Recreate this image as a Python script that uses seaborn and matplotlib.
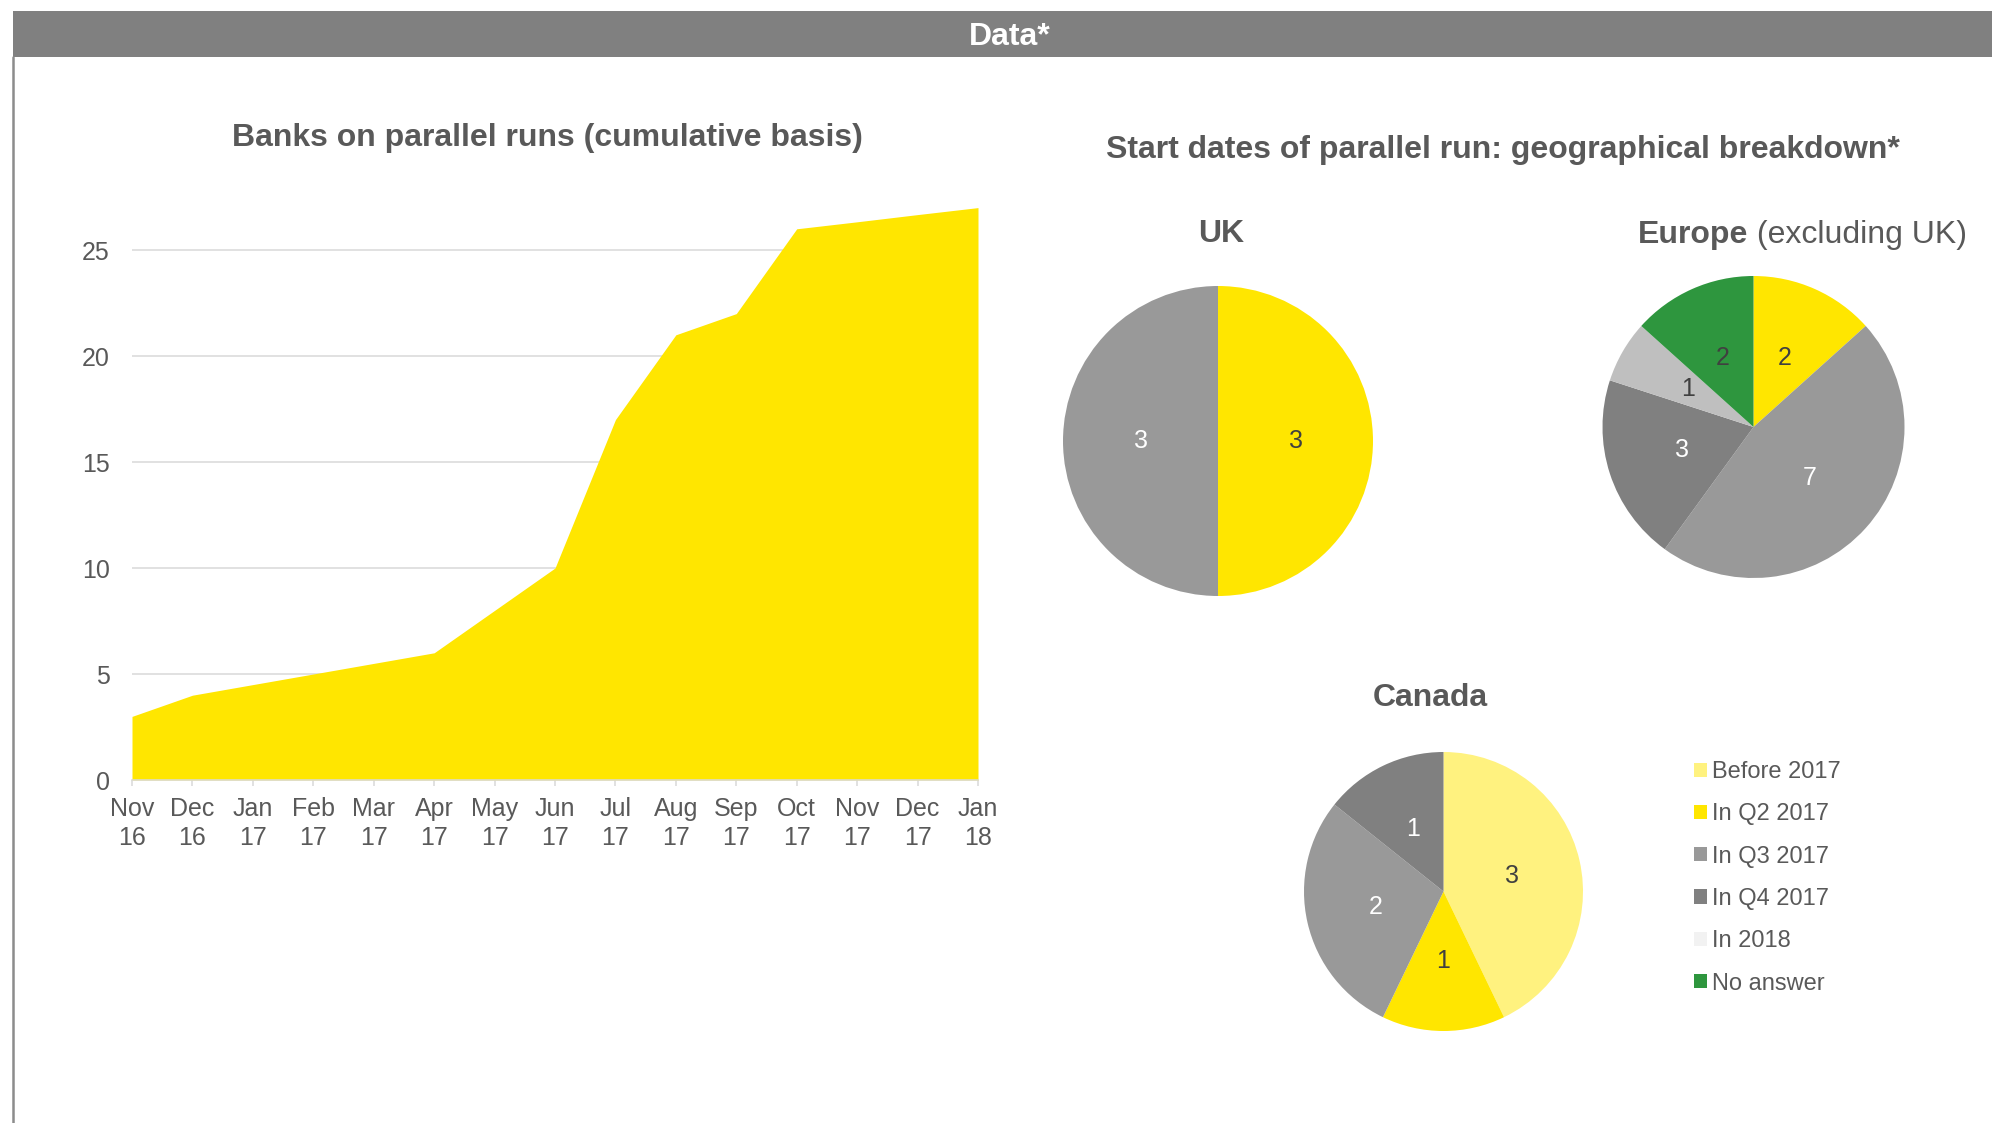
import matplotlib
matplotlib.use("Agg")
import matplotlib.pyplot as plt
import seaborn as sns
import pandas as pd
from matplotlib.patches import Rectangle, Patch
from matplotlib.lines import Line2D

# ---- data -------------------------------------------------------------
months = ["Nov\n16", "Dec\n16", "Jan\n17", "Feb\n17", "Mar\n17", "Apr\n17",
          "May\n17", "Jun\n17", "Jul\n17", "Aug\n17", "Sep\n17", "Oct\n17",
          "Nov\n17", "Dec\n17", "Jan\n18"]
banks_cumulative = [3, 4, 4.5, 5, 5.5, 6, 8, 10, 17, 21, 22, 26, 26.33, 26.67, 27]
y_ticks = [0, 5, 10, 15, 20, 25]

categories = ["Before 2017", "In Q2 2017", "In Q3 2017", "In Q4 2017",
              "In 2018", "No answer"]

uk_labels = ["In Q2 2017", "In Q3 2017"]
uk_values = [3, 3]

europe_labels = ["In Q2 2017", "In Q3 2017", "In Q4 2017", "In 2018", "No answer"]
europe_values = [2, 7, 3, 1, 2]

canada_labels = ["Before 2017", "In Q2 2017", "In Q3 2017", "In Q4 2017"]
canada_values = [3, 1, 2, 1]

# ---- style ------------------------------------------------------------
YELLOW = "#FFE600"
TEXT = "#595959"
GRID = "#D9D9D9"
legend_colors = {"Before 2017": "#FFF27F", "In Q2 2017": YELLOW,
                 "In Q3 2017": "#999999", "In Q4 2017": "#808080",
                 "In 2018": "#F2F2F2", "No answer": "#2E963E"}
slice_colors = dict(legend_colors, **{"In 2018": "#BFBFBF"})
label_colors = {"Before 2017": "#404040", "In Q2 2017": "#404040",
                "In Q3 2017": "white", "In Q4 2017": "white",
                "In 2018": "#404040", "No answer": "#404040"}

sns.set_theme(style="white")
plt.rcParams["font.family"] = ["Liberation Sans", "DejaVu Sans"]
plt.rcParams["text.color"] = TEXT

W, H, DPI = 1992, 1123, 100
fig = plt.figure(figsize=(W / DPI, H / DPI), dpi=DPI)
fig.patch.set_facecolor("white")


def fx(x):
    return x / W


def fy(y):
    return 1 - y / H


# ---- header bar and frame line ---------------------------------------
fig.patches.append(Rectangle((fx(13), fy(57)), 1 - fx(13), (57 - 11) / H,
                             transform=fig.transFigure, facecolor="#808080",
                             edgecolor="none", zorder=0))
fig.lines.append(Line2D([fx(13), fx(13)], [fy(57), 0], transform=fig.transFigure,
                        color="#8C8C8C", linewidth=1.8))
fig.text(fx(1010), fy(45), "Data*", ha="center", va="baseline",
         fontsize=23, fontweight="bold", color="white")

# ---- area chart -------------------------------------------------------
px_per_unit = (780 - 250) / 25
ax = fig.add_axes([fx(132), fy(780), (978 - 132) / W, 30 * px_per_unit / H])
df = pd.DataFrame({"idx": range(len(months)), "banks": banks_cumulative})
sns.lineplot(data=df, x="idx", y="banks", ax=ax, color=YELLOW, linewidth=0)
ax.fill_between(df["idx"], df["banks"], color=YELLOW, linewidth=0, zorder=2)
ax.set_xlim(0, len(months) - 1)
ax.set_ylim(0, 30)
ax.set_xticks(range(len(months)))
ax.set_xticklabels(months, linespacing=1.25)
ax.set_yticks(y_ticks)
ax.set_xlabel("")
ax.set_ylabel("")
ax.set_axisbelow(True)
ax.yaxis.grid(True, color=GRID, linewidth=1.1)
ax.xaxis.grid(False)
for side in ("left", "right", "top"):
    ax.spines[side].set_visible(False)
ax.spines["bottom"].set_color(GRID)
ax.spines["bottom"].set_linewidth(1.1)
ax.tick_params(axis="x", bottom=True, length=4.5, width=1.1, color=GRID,
               pad=8, labelsize=18, labelcolor=TEXT)
ax.tick_params(axis="y", left=False, pad=10, labelsize=18, labelcolor=TEXT)
ax.set_facecolor("none")

fig.text(fx(547), fy(146), "Banks on parallel runs (cumulative basis)",
         ha="center", va="baseline", fontsize=23, fontweight="bold", color=TEXT)
fig.text(fx(1503), fy(158), "Start dates of parallel run: geographical breakdown*",
         ha="center", va="baseline", fontsize=23, fontweight="bold", color=TEXT)


# ---- pies -------------------------------------------------------------
def draw_pie(cx, cy, r, labels, values):
    pax = fig.add_axes([fx(cx - r), fy(cy + r), 2 * r / W, 2 * r / H])
    wedges, texts = pax.pie(values, labels=[str(v) for v in values],
                            colors=[slice_colors[l] for l in labels],
                            startangle=90, counterclock=False, radius=1,
                            labeldistance=0.5,
                            wedgeprops=dict(linewidth=0),
                            textprops=dict(fontsize=18))
    for t, lab in zip(texts, labels):
        t.set_ha("center")
        t.set_va("center")
        t.set_color(label_colors[lab])
    pax.set_xlim(-1, 1)
    pax.set_ylim(-1, 1)
    pax.axis("off")
    return pax


draw_pie(1218, 441, 155, uk_labels, uk_values)
draw_pie(1753.5, 427, 151, europe_labels, europe_values)
draw_pie(1443.5, 891.5, 139.5, canada_labels, canada_values)

fig.text(fx(1221), fy(242), "UK", ha="center", va="baseline",
         fontsize=23, fontweight="bold", color=TEXT)
fig.text(fx(1748), fy(243), "Europe", ha="right", va="baseline",
         fontsize=23, fontweight="bold", color=TEXT)
fig.text(fx(1748), fy(243), " (excluding UK)", ha="left", va="baseline",
         fontsize=23, color=TEXT)
fig.text(fx(1430), fy(706), "Canada", ha="center", va="baseline",
         fontsize=23, fontweight="bold", color=TEXT)

# ---- legend -----------------------------------------------------------
handles = [Patch(facecolor=legend_colors[c], edgecolor="none", label=c)
           for c in categories]
fig.legend(handles=handles, loc="upper left",
           bbox_to_anchor=(fx(1694), fy(761)), frameon=False,
           fontsize=17, handlelength=0.55, handleheight=0.55,
           handletextpad=0.22, labelspacing=0.86, borderaxespad=0,
           borderpad=0, labelcolor=TEXT)

fig.savefig("out.png", dpi=DPI)
